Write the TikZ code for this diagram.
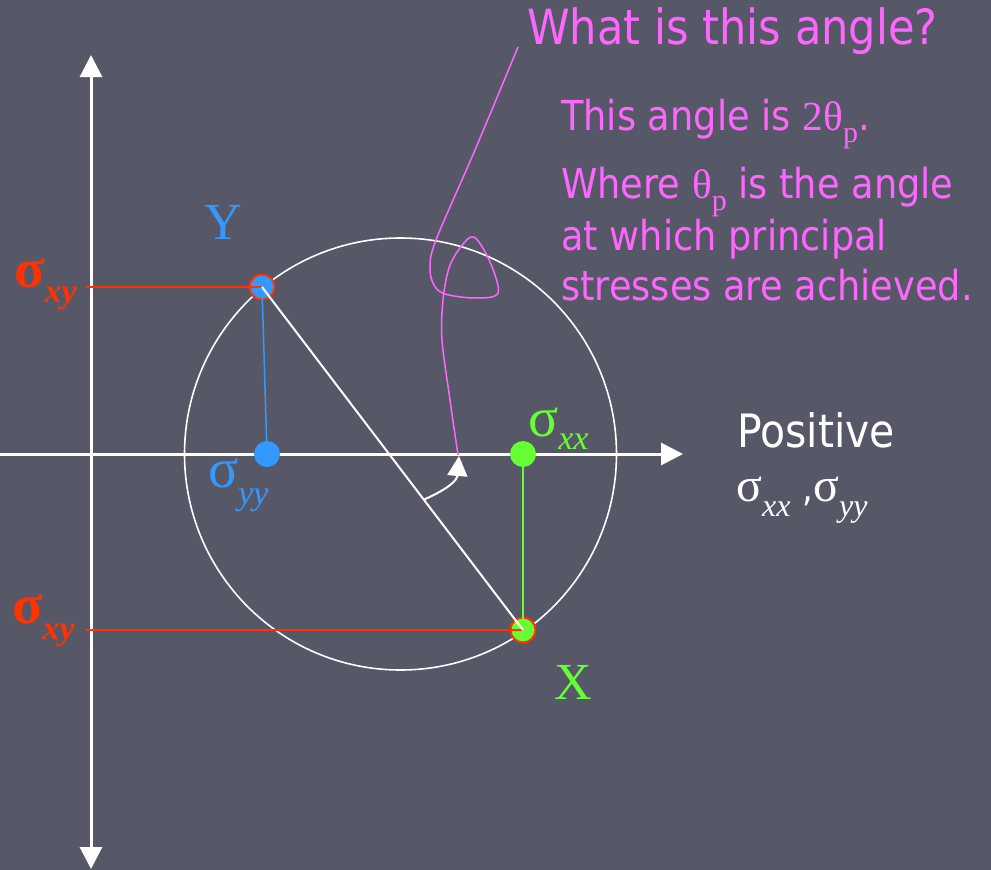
\documentclass[tikz,border=0pt]{standalone}
\usepackage{fontspec}
\setmainfont{DejaVu Sans}[FakeStretch=0.89]
\newfontfamily\serif{Liberation Serif}
\usetikzlibrary{arrows.meta,calc}
\definecolor{bg}{RGB}{86,88,104}
\definecolor{mag}{RGB}{255,102,255}
\definecolor{sred}{RGB}{255,51,0}
\definecolor{sblue}{RGB}{51,153,255}
\definecolor{sgreen}{RGB}{102,255,51}
\newcommand\lsub[3]{\raisebox{-#1pt}{\fontsize{#2}{#2}\selectfont #3}}
\begin{document}
\begin{tikzpicture}[x=1pt,y=-1pt,
  axis/.style={white,line width=3,{Triangle[width=22,length=22]}-{Triangle[width=22,length=22]}},
  haxis/.style={white,line width=3,-{Triangle[width=22,length=22]}},
  sdot/.style={circle,inner sep=0,minimum size=26},
  pdot/.style={circle,inner sep=0,minimum size=25,draw=sred,line width=2},
  txt/.style={inner sep=0,anchor=base west},
  lbl/.style={inner sep=0,anchor=base west}]
\path[fill=bg] (0,0) rectangle (991,870);
\useasboundingbox (0,0) rectangle (991,870);
% axes
\coordinate (vb) at (91,869);
\coordinate (vt) at (91,55);
\coordinate (hl) at (0,454);
\coordinate (hr) at (683,454);
\draw[axis] (vb) -- (vt);
\draw[haxis] (hl) -- (hr);
% circle
\node[circle,draw=white,line width=1.6,inner sep=0,minimum size=432] (mohr) at (400.5,454) {};
% points
\node[pdot,fill=sblue] (Y) at (262,287) {};
\node[pdot,fill=sgreen] (X) at (523,630) {};
\node[sdot,fill=sblue] (syy) at (267,454) {};
\node[sdot,fill=sgreen] (sxx) at (523,454) {};
\coordinate (r1) at (86,287);
\coordinate (r2) at (86,630);
\draw[sred,line width=2] (r1) -- (Y.center);
\draw[sred,line width=2] (r2) -- (X.center);
\draw[sblue,line width=1.5] (Y.center) -- (syy.center);
\draw[sgreen,line width=1.5] (sxx.center) -- (X.center);
\draw[white,line width=2] (Y.center) -- (X.center);
% angle arrow
\coordinate (a0) at ($(Y.center)!0.62!(X.center)$);
\coordinate (a1) at (459,456);
\draw[white,line width=2,-{Triangle[width=20,length=20]}] (a0) .. controls (450,488) and (457,480) .. (a1);
% magenta pointer
\draw[mag,line width=1.5] plot[smooth,tension=0.55] coordinates {(518,47) (475,150) (436,240) (430,268) (434,285) (445,294) (475,298) (498,293) (490,262) (474,237) (460,248) (449,268) (443,300) (442,340) (450,400) (458,455)};
% labels
\node[lbl,text=sred] (sxy1) at (14,287) {\serif\fontsize{56}{56}\selectfont\bfseries σ\lsub{15}{34}{\bfseries\itshape xy}};
\node[lbl,text=sred] (sxy2) at (12,623) {\serif\fontsize{56}{56}\selectfont\bfseries σ\lsub{16}{34}{\bfseries\itshape xy}};
\node[lbl,text=sblue] (lyy) at (208,487) {\serif\fontsize{56}{56}\selectfont σ\lsub{17}{34}{\itshape yy}};
\node[lbl,text=sgreen] (lxx) at (528,436) {\serif\fontsize{56}{56}\selectfont σ\lsub{13}{34}{\itshape xx}};
\node[text=sblue,inner sep=0,font=\serif\fontsize{52}{52}\selectfont] (lY) at (223,222) {Y};
\node[text=sgreen,inner sep=0,font=\serif\fontsize{52}{52}\selectfont] (lX) at (573,682) {X};
\node[txt,text=white,font=\fontsize{46}{46}\selectfont] (pos) at (737,447) {Positive};
\node[txt,text=white] (pos2) at (736,501) {\serif\fontsize{48}{48}\selectfont σ\lsub{15}{32}{\itshape xx}\ {\rmfamily\fontsize{38}{38}\selectfont ,}σ\lsub{15}{32}{\itshape yy}};
\node[txt,text=mag,font=\fontsize{48.5}{48.5}\selectfont] (q) at (527,44) {What is this angle?};
\node[txt,text=mag,font=\fontsize{41.3}{41.3}\selectfont] (ans1) at (561,130) {This angle is {\serif 2θ\lsub{12}{30}{p}}.};
\node[txt,text=mag,font=\fontsize{41.3}{41.3}\selectfont] (ans2) at (561,198) {Where {\serif θ\lsub{12}{30}{p}} is the angle};
\node[txt,text=mag,font=\fontsize{41.3}{41.3}\selectfont] (ans3) at (561,250) {at which principal};
\node[txt,text=mag,font=\fontsize{41.3}{41.3}\selectfont] (ans4) at (561,300) {stresses are achieved.};
\end{tikzpicture}
\end{document}
